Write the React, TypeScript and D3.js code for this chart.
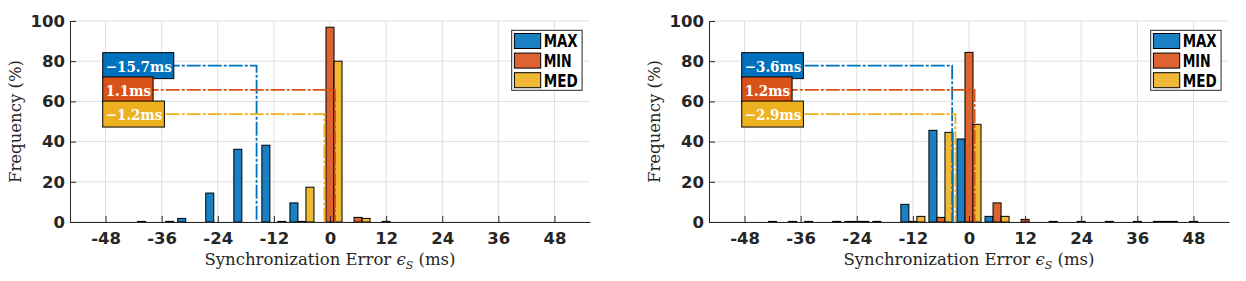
import React, { useEffect, useRef } from 'react';
import * as d3 from 'd3';

// histogram bin centres (ms), shared by both panels
const bins = [-48, -42, -36, -30, -24, -18, -12, -6, 0, 6, 12, 18, 24, 30, 36, 42, 48];
const seriesNames = ['MAX', 'MIN', 'MED'];
const xTicks = [-48, -36, -24, -12, 0, 12, 24, 36, 48];
const yTicks = [0, 20, 40, 60, 80, 100];

// left panel, frequency (%) per bin
const leftMax = [0, 0, 0, 1.8, 14.4, 36.2, 38.2, 9.5, 0, 0, 0, 0, 0, 0, 0, 0, 0];
const leftMin = [0, 0, 0, 0, 0, 0, 0, 0.3, 96.9, 2.3, 0.3, 0, 0, 0, 0, 0, 0];
const leftMed = [0, 0.3, 0.3, 0, 0, 0, 0.3, 17.3, 80, 1.8, 0, 0, 0, 0, 0, 0, 0];
const leftMeans = [-15.7, 1.1, -1.2];
const leftLabels = ['\u221215.7ms', '1.1ms', '\u22121.2ms'];

// right panel
const rightMax = [0, 0, 0.3, 0, 0.3, 0.3, 8.8, 45.6, 41.3, 2.8, 0, 0, 0, 0, 0, 0.3, 0];
const rightMin = [0, 0.3, 0, 0, 0.3, 0, 0.3, 2.3, 84.4, 9.5, 1.3, 0.3, 0.3, 0.3, 0.3, 0.3, 0.3];
const rightMed = [0, 0, 0.3, 0.3, 0.3, 0, 2.8, 44.6, 48.6, 2.8, 0, 0, 0, 0, 0, 0.3, 0];
const rightMeans = [-3.6, 1.2, -2.9];
const rightLabels = ['\u22123.6ms', '1.2ms', '\u22122.9ms'];

const COLORS = ['#0072BD', '#D95319', '#EDB120'];
const INK = '#262626';
const GRID = '#dfdfdf';

interface Panel {
  left: number;
  series: number[][];
  means: number[];
  labels: string[];
}

const panels: Panel[] = [
  { left: 70, series: [leftMax, leftMin, leftMed], means: leftMeans, labels: leftLabels },
  { left: 709, series: [rightMax, rightMin, rightMed], means: rightMeans, labels: rightLabels },
];

function drawPanel(svg: d3.Selection<SVGSVGElement, unknown, null, undefined>, p: Panel) {
  const width = 520;
  const top = 21;
  const bottom = 222;
  const x = d3.scaleLinear().domain([-55.6, 55.6]).range([p.left, p.left + width]);
  const y = d3.scaleLinear().domain([0, 100]).range([bottom, top]);
  const g = svg.append('g');

  // grid
  g.append('g')
    .selectAll('line')
    .data(xTicks)
    .join('line')
    .attr('x1', (d) => x(d))
    .attr('x2', (d) => x(d))
    .attr('y1', top)
    .attr('y2', bottom)
    .attr('stroke', GRID);
  g.append('g')
    .selectAll('line')
    .data(yTicks)
    .join('line')
    .attr('x1', p.left)
    .attr('x2', p.left + width)
    .attr('y1', (d) => y(d))
    .attr('y2', (d) => y(d))
    .attr('stroke', GRID);

  // grouped bars
  const bw = 6 / 3.5;
  p.series.forEach((vals, i) => {
    g.append('g')
      .selectAll('rect')
      .data(bins.map((b, j) => ({ b, v: vals[j] })).filter((d) => d.v > 0))
      .join('rect')
      .attr('x', (d) => x(d.b + (i - 1) * bw - bw / 2))
      .attr('width', x(bw) - x(0))
      .attr('y', (d) => y(d.v))
      .attr('height', (d) => y(0) - y(d.v))
      .attr('fill', COLORS[i])
      .attr('fill-opacity', 0.9)
      .attr('stroke', '#000')
      .attr('stroke-width', 1);
  });

  // axes
  const xAxis = g.append('g')
    .attr('transform', `translate(0,${bottom})`)
    .call(d3.axisBottom(x).tickValues(xTicks).tickSize(-6).tickSizeOuter(0).tickPadding(10.5).tickFormat(d3.format('d')));
  const yAxis = g.append('g')
    .attr('transform', `translate(${p.left},0)`)
    .call(d3.axisLeft(y).tickValues(yTicks).tickSize(-6).tickSizeOuter(0).tickPadding(5));
  [xAxis, yAxis].forEach((a) => {
    a.selectAll('path,line').attr('stroke', INK);
    a.selectAll('text')
      .attr('fill', INK)
      .style('font-family', 'DejaVu Sans')
      .style('font-weight', 'bold')
      .style('font-size', '16.5px');
  });
  xAxis.selectAll('text').text((d: any) => String(d).replace('\u2212', '-'));

  // mean markers: dash-dot lines from the label boxes down to the axis
  const levels = [77.8, 65.7, 53.7];
  const boxX = x(-48.6);
  p.means.forEach((m, i) => {
    g.append('path')
      .attr('d', `M${boxX},${y(levels[i])}H${x(m)}V${y(0)}`)
      .attr('fill', 'none')
      .attr('stroke', COLORS[i])
      .attr('stroke-width', 1.8)
      .attr('stroke-dasharray', '14 2 3 2');
  });
  p.labels.forEach((lab, i) => {
    const bg = g.append('g');
    const rect = bg.append('rect')
      .attr('x', boxX)
      .attr('y', y(levels[i]) - 13)
      .attr('height', 26)
      .attr('fill', COLORS[i])
      .attr('stroke', '#000')
      .attr('stroke-width', 1);
    const t = bg.append('text')
      .attr('x', boxX + 3)
      .attr('y', y(levels[i]) + 6)
      .attr('fill', '#fff')
      .style('font-family', "'DejaVu Serif Condensed', 'DejaVu Serif'")
      .style('font-stretch', 'condensed')
      .style('font-weight', 'bold')
      .style('font-size', '15px')
      .text(lab);
    const w = (t.node() as SVGTextElement).getComputedTextLength();
    rect.attr('width', w + 5);
  });

  // legend
  const lx = p.left + width - 78.3;
  const ly = 30.3;
  const lg = g.append('g');
  lg.append('rect')
    .attr('x', lx)
    .attr('y', ly)
    .attr('width', 70.4)
    .attr('height', 60)
    .attr('fill', '#fff')
    .attr('stroke', INK)
    .attr('stroke-width', 1);
  const textLens = [34, 28, 34];
  seriesNames.forEach((name, i) => {
    const cy = ly + 10.7 + i * 19.6;
    lg.append('rect')
      .attr('x', lx + 2.7)
      .attr('y', cy - 7.5)
      .attr('width', 26.3)
      .attr('height', 15)
      .attr('fill', COLORS[i])
      .attr('fill-opacity', 0.9)
      .attr('stroke', '#000');
    lg.append('text')
      .attr('x', lx + 32)
      .attr('y', cy + 6.3)
      .attr('textLength', textLens[i])
      .attr('lengthAdjust', 'spacingAndGlyphs')
      .attr('fill', '#000')
      .style('font-family', 'DejaVu Sans')
      .style('font-weight', 'bold')
      .style('font-size', '17px')
      .text(name);
  });

  // axis titles
  const xl = g.append('text')
    .attr('x', p.left + width / 2)
    .attr('y', 265)
    .attr('text-anchor', 'middle')
    .attr('fill', INK)
    .style('font-family', 'DejaVu Serif')
    .style('font-size', '16.5px');
  xl.append('tspan').text('Synchronization Error ');
  xl.append('tspan').style('font-style', 'italic').text('\u03F5');
  xl.append('tspan').style('font-style', 'italic').style('font-size', '11px').attr('dy', 4).text('S');
  xl.append('tspan').attr('dy', -4).text(' (ms)');

  g.append('text')
    .attr('transform', `translate(${p.left - 49},${(top + bottom) / 2}) rotate(-90)`)
    .attr('text-anchor', 'middle')
    .attr('fill', INK)
    .style('font-family', 'DejaVu Serif')
    .style('font-size', '16.5px')
    .text('Frequency (%)');
}

export default function App() {
  const svgRef = useRef<SVGSVGElement>(null);

  useEffect(() => {
    if (!svgRef.current) return;
    const svg = d3.select(svgRef.current);
    svg.selectAll('*').remove();
    panels.forEach((p) => drawPanel(svg, p));
  }, []);

  return (
    <svg
      ref={svgRef}
      width={1246}
      height={281}
      style={{ position: 'absolute', left: 0, top: 0, background: '#fff' }}
    />
  );
}
